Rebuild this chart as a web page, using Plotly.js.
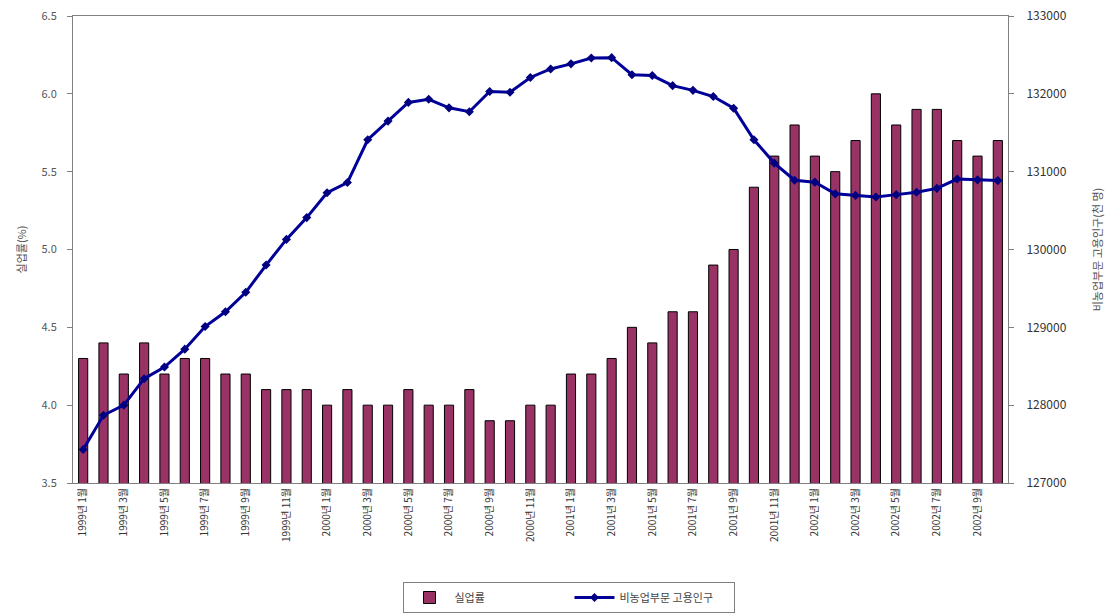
<!DOCTYPE html>
<html>
<head>
<meta charset="utf-8">
<script src="https://cdn.plot.ly/plotly-3.0.1.min.js"></script>
<style>html,body{margin:0;padding:0;background:#fff;}#chart{width:1120px;height:613px;}</style>
</head>
<body>
<div id="chart"></div>
<script>
const months = [
  "1999년 1월","1999년 2월","1999년 3월","1999년 4월","1999년 5월","1999년 6월","1999년 7월","1999년 8월","1999년 9월","1999년 10월","1999년 11월","1999년 12월",
  "2000년 1월","2000년 2월","2000년 3월","2000년 4월","2000년 5월","2000년 6월","2000년 7월","2000년 8월","2000년 9월","2000년 10월","2000년 11월","2000년 12월",
  "2001년 1월","2001년 2월","2001년 3월","2001년 4월","2001년 5월","2001년 6월","2001년 7월","2001년 8월","2001년 9월","2001년 10월","2001년 11월","2001년 12월",
  "2002년 1월","2002년 2월","2002년 3월","2002년 4월","2002년 5월","2002년 6월","2002년 7월","2002년 8월","2002년 9월","2002년 10월"
];
const unemploymentRate = [
  4.3,4.4,4.2,4.4,4.2,4.3,4.3,4.2,4.2,4.1,4.1,4.1,
  4.0,4.1,4.0,4.0,4.1,4.0,4.0,4.1,3.9,3.9,4.0,4.0,
  4.2,4.2,4.3,4.5,4.4,4.6,4.6,4.9,5.0,5.4,5.6,5.8,
  5.6,5.5,5.7,6.0,5.8,5.9,5.9,5.7,5.6,5.7
];
const nonfarmEmployment = [
  127430,127870,128000,128340,128490,128720,129010,129200,129450,129800,130130,130410,
  130730,130860,131410,131650,131890,131930,131820,131770,132030,132020,132210,132320,
  132385,132460,132465,132245,132235,132105,132045,131965,131815,131410,131110,130890,
  130865,130715,130695,130675,130705,130735,130785,130905,130895,130885
];
const seriesNames = ["실업률", "비농업부문 고용인구"];
const leftTitle = "실업률(%)";
const rightTitle = "비농업부문 고용인구(천 명)";
const leftTicks = [3.5, 4.0, 4.5, 5.0, 5.5, 6.0, 6.5];
const rightTicks = [127000, 128000, 129000, 130000, 131000, 132000, 133000];

const tickVals = months.filter((m, i) => i % 2 === 0);

const FONT = "Noto Sans CJK KR, DejaVu Sans, sans-serif";

const traces = [
  {
    type: "bar",
    name: seriesNames[0],
    x: months,
    y: unemploymentRate,
    yaxis: "y",
    marker: { color: "#993366", line: { color: "#000000", width: 1 } }
  },
  {
    type: "scatter",
    mode: "lines+markers",
    name: seriesNames[1],
    x: months,
    y: nonfarmEmployment,
    yaxis: "y2",
    line: { color: "#000099", width: 3 },
    marker: { symbol: "diamond", size: 7, color: "#000080" }
  }
];

const layout = {
  width: 1120,
  height: 613,
  margin: { l: 73, r: 112, t: 16, b: 130, autoexpand: false },
  paper_bgcolor: "#ffffff",
  plot_bgcolor: "#ffffff",
  font: { family: FONT, size: 11, color: "#333333" },
  bargap: 0.55,
  showlegend: true,
  legend: {
    orientation: "h",
    x: 0.531, xanchor: "center",
    y: -0.212, yanchor: "top",
    bordercolor: "#808080",
    borderwidth: 1,
    font: { family: FONT, size: 11, color: "#444444" },
    itemwidth: 40,
    entrywidth: 110,
    traceorder: "normal"
  },
  xaxis: {
    type: "category",
    range: [-0.5, months.length - 0.5],
    autorange: false,
    automargin: false,
    tickmode: "array",
    tickvals: tickVals,
    ticktext: tickVals,
    tickangle: -90,
    tickfont: { family: FONT, size: 10, color: "#333333" },
    showline: true,
    linecolor: "#808080",
    linewidth: 1,
    mirror: true,
    ticks: "",
    showgrid: false,
    zeroline: false
  },
  yaxis: {
    range: [3.5, 6.5],
    autorange: false,
    automargin: false,
    tickmode: "array",
    tickvals: leftTicks,
    ticktext: leftTicks.map(v => v.toFixed(1)),
    tickfont: { family: FONT, size: 11, color: "#555555" },
    ticklabelstandoff: 8,
    showline: true,
    linecolor: "#808080",
    linewidth: 1,
    ticks: "outside",
    ticklen: 5,
    tickcolor: "#808080",
    showgrid: false,
    zeroline: false,
    title: { text: leftTitle, font: { family: FONT, size: 11, color: "#555555" }, standoff: 12 }
  },
  yaxis2: {
    overlaying: "y",
    side: "right",
    range: [127000, 133000],
    autorange: false,
    automargin: false,
    tickmode: "array",
    tickvals: rightTicks,
    ticktext: rightTicks.map(String),
    tickfont: { family: FONT, size: 12, color: "#333333" },
    ticklabelstandoff: 10,
    showline: true,
    linecolor: "#808080",
    linewidth: 1,
    ticks: "outside",
    ticklen: 5,
    tickcolor: "#808080",
    showgrid: false,
    zeroline: false,
    title: { text: rightTitle, font: { family: FONT, size: 11, color: "#555555" }, standoff: 28 }
  }
};

Plotly.newPlot("chart", traces, layout, { displayModeBar: false, staticPlot: true });
</script>
</body>
</html>
